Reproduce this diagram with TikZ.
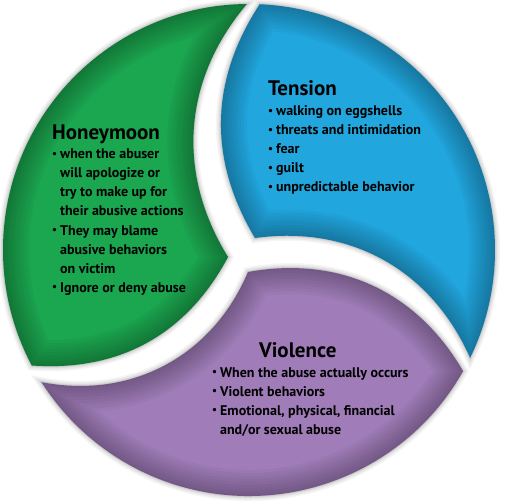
\documentclass[tikz,border=0pt]{standalone}
\usepackage{fontspec}
\setmainfont{PT Sans}
\definecolor{honeygreen}{RGB}{27,166,80}
\definecolor{tensionblue}{RGB}{33,166,221}
\definecolor{violencepurple}{RGB}{160,124,184}
\newcommand\blt{\raisebox{0.15ex}{\fontsize{11}{11}\selectfont\textbullet}}
% outlines of the three pieces
\newcommand\pathHoney{(-21,-7) to[bend left=36] (90.5:246) arc[start angle=90.5, end angle=208, radius=246] to[bend right=33] (-21,-7) -- cycle}
\newcommand\pathTension{(6,12) to[bend left=32] (87.5:246) arc[start angle=87.5, end angle=-26, radius=246] to[bend right=37] (6,12) -- cycle}
\newcommand\pathViolence{(-1,-22) to[bend left=35] (-29.5:246) arc[start angle=-29.5, end angle=-147.5, radius=246] to[bend right=39] (-1,-22) -- cycle}
\tikzset{
  phasetitle/.style={anchor=base west, inner sep=0pt, font=\fontsize{21}{24}\selectfont\bfseries},
  phaselist/.style={anchor=base west, inner sep=0pt, font=\fontsize{14}{19}\selectfont\bfseries},
}
\begin{document}
\begin{tikzpicture}[x=1pt, y=1pt]
    \useasboundingbox (-249,-253) rectangle (261,250);

    % soft shadow round each piece
    \foreach \w/\o in {10/0.04, 7/0.05, 4/0.06, 2/0.07} {
        \draw[line width=\w pt, black, opacity=\o] \pathHoney;
        \draw[line width=\w pt, black, opacity=\o] \pathTension;
        \draw[line width=\w pt, black, opacity=\o] \pathViolence;
    }

    % the pieces
    \fill[honeygreen] \pathHoney;
    \fill[tensionblue] \pathTension;
    \fill[violencepurple] \pathViolence;

    % darker rims inside the pieces
    \begin{scope}
        \clip \pathHoney;
        \foreach \w in {52,46,...,4}
            \draw[line width=\w pt, black, opacity=0.03] \pathHoney;
    \end{scope}
    \begin{scope}
        \clip \pathTension;
        \foreach \w in {52,46,...,4}
            \draw[line width=\w pt, black, opacity=0.03] \pathTension;
    \end{scope}
    \begin{scope}
        \clip \pathViolence;
        \foreach \w in {52,46,...,4}
            \draw[line width=\w pt, black, opacity=0.03] \pathViolence;
    \end{scope}

    % Honeymoon
    \node[phasetitle] (honeytitle) at (-197,110) {Honeymoon};
    \node[phaselist] (honeylist) at (-197,91) {\begin{tabular}[t]{@{}l@{\hspace{3pt}}l@{}}
        \blt & when the abuser\\
             & will apologize or\\
             & try to make up for\\
             & their abusive actions\\
        \blt & They may blame\\
             & abusive behaviors\\
             & on victim\\
        \blt & Ignore or deny abuse
    \end{tabular}};

    % Tension
    \node[phasetitle] (tensiontitle) at (19,154) {Tension};
    \node[phaselist] (tensionlist) at (19,134) {\begin{tabular}[t]{@{}l@{\hspace{3pt}}l@{}}
        \blt & walking on eggshells\\
        \blt & threats and intimidation\\
        \blt & fear\\
        \blt & guilt\\
        \blt & unpredictable behavior
    \end{tabular}};

    % Violence
    \node[phasetitle] (violencetitle) at (10,-107) {Violence};
    \node[phaselist] (violencelist) at (-37,-127) {\begin{tabular}[t]{@{}l@{\hspace{3pt}}l@{}}
        \blt & When the abuse actually occurs\\
        \blt & Violent behaviors\\
        \blt & Emotional, physical, financial\\
             & and/or sexual abuse
    \end{tabular}};

\end{tikzpicture}
\end{document}
